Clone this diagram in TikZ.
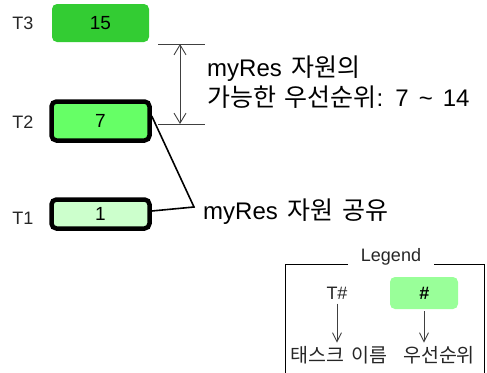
\documentclass[tikz,border=0pt]{standalone}
\usepackage{fontspec}
\setmainfont{Liberation Sans}[WordSpace=1.5]
\newfontfamily\kr{Noto Sans CJK KR}[WordSpace=1.5]
\newcommand\krbig[1]{{\kr\fontsize{25}{30}\selectfont #1}}
\usetikzlibrary{arrows.meta}
\definecolor{gA}{HTML}{33CC33}
\definecolor{gB}{HTML}{66FF66}
\definecolor{gC}{HTML}{CCFFCC}
\definecolor{gL}{HTML}{99FF99}
\tikzset{
  prio/.style={rounded corners=5pt, minimum width=#1, font=\fontsize{19}{19}\selectfont, inner sep=0pt},
  held/.style={draw=black, line width=4.5pt},
  tlabel/.style={font=\fontsize{18}{18}\selectfont, text=black!85},
  note/.style={font=\fontsize{24}{30}\selectfont, align=left, anchor=west, inner sep=0pt},
  legtext/.style={font=\fontsize{18}{18}\selectfont, text=black!85},
  legkr/.style={font=\kr\fontsize{19.5}{19.5}\selectfont, text=black!85},
  thin/.style={draw=black!75, line width=0.9pt},
  >={Straight Barb[length=10pt,width=12pt]},
  legarrow/.style={thin, -{Straight Barb[length=9pt,width=9pt]}},
}
\begin{document}
\begin{tikzpicture}[x=1pt,y=-1pt]
\useasboundingbox (0,0) rectangle (487,372);
% tasks
\node[prio=97pt, minimum height=38pt, fill=gA] (t3) at (100.5,23) {15};
\node[prio=98pt, minimum height=39pt, fill=gB, held] (t2) at (100.5,121) {7};
\node[prio=98pt, minimum height=29pt, fill=gC, held] (t1) at (100.5,214) {1};
\node[tlabel] (l3) at (23,23) {T3};
\node[tlabel] (l2) at (23,122) {T2};
\node[tlabel] (l1) at (23,218) {T1};
% dimension
\coordinate (dA) at (158,44);
\coordinate (dB) at (205,44);
\coordinate (dC) at (158,124);
\coordinate (dD) at (205,124);
\coordinate (aT) at (180,44);
\coordinate (aB) at (180,124);
\draw[thin] (dA) -- (dB);
\draw[thin] (dC) -- (dD);
\draw[thin, <->] (aT) -- (aB);
\node[note] (range) at (207,82) {myRes \krbig{자원의}\\\krbig{가능한 우선순위}: 7 \textasciitilde{} 14};
% sharing
\coordinate (j) at (194,207);
\draw[line width=1.6pt] ([yshift=5pt]t2.east) -- (j) -- ([yshift=3pt]t1.east);
\node[note] (share) at (203,212) {myRes \krbig{자원 공유}};
% legend
\coordinate (g1) at (285,373);
\coordinate (g2) at (285,264);
\coordinate (g3) at (348,264);
\coordinate (g4) at (434,264);
\coordinate (g5) at (484,264);
\coordinate (g6) at (484,373);
\draw[line width=0.9pt] (g3) -- (g2) -- (g1);
\draw[line width=0.9pt] (g4) -- (g5) -- (g6);
\node[legtext] (lt) at (391,257) {Legend};
\node[legtext] (th) at (337,293) {T\#};
\node[prio=68pt, minimum height=32pt, fill=gL, font=\fontsize{18}{18}\selectfont] (bh) at (424,293) {\bfseries\itshape\#};
\node[legkr] (tn) at (339,355) {태스크 이름};
\node[legkr] (pn) at (439,355) {우선순위};
\draw[legarrow] ([yshift=-1pt]th.south) -- (th.south |- tn.north);
\draw[legarrow] ([yshift=-2pt]bh.south) -- (bh.south |- pn.north);
\end{tikzpicture}
\end{document}
